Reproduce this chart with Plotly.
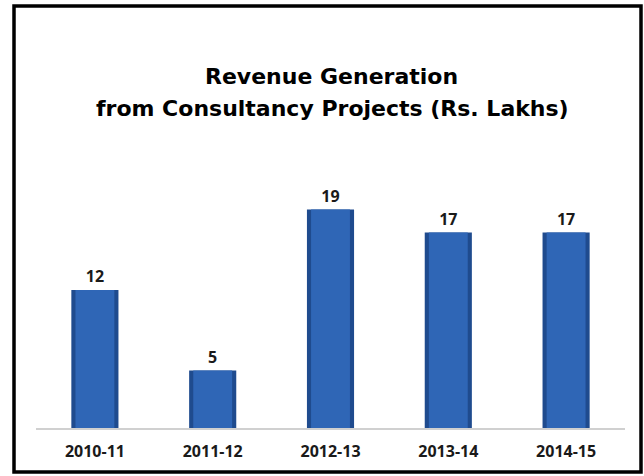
import plotly.graph_objects as go

# Consultancy revenue by financial year (Rs. Lakhs)
years = ["2010-11", "2011-12", "2012-13", "2013-14", "2014-15"]
revenue = [12, 5, 19, 17, 17]

title_lines = ["Revenue Generation", "from Consultancy Projects (Rs. Lakhs)"]

W, H = 644, 476
# plot area in pixels
px_left, px_right = 36, 625
px_top, px_bottom = 198, 428

fig = go.Figure()

# dark outer body of each column
fig.add_trace(go.Bar(
    x=years, y=revenue, width=0.4,
    marker=dict(color="#1F4B8E", line=dict(width=0)),
    hoverinfo="skip", showlegend=False,
))
# lighter inner face for a bevelled look
fig.add_trace(go.Bar(
    x=years, y=revenue, width=0.33,
    marker=dict(color="#2F66B6", line=dict(width=0)),
    text=[str(v) for v in revenue], textposition="outside",
    textfont=dict(family="Open Sans", size=16, color="#1a1a1a"),
    texttemplate="<b>%{text}</b>",
    cliponaxis=False, showlegend=False,
))

fig.update_layout(
    width=W, height=H,
    margin=dict(l=0, r=0, t=0, b=0),
    paper_bgcolor="white", plot_bgcolor="white",
    barmode="overlay",
    xaxis=dict(
        type="category",
        domain=[px_left / W, px_right / W],
        showgrid=False, zeroline=False,
        showline=True, linecolor="#D0D0D0", linewidth=2,
        ticks="", ticklabelstandoff=8,
        tickfont=dict(family="Open Sans", size=16, color="#1a1a1a", weight="bold"),
    ),
    yaxis=dict(
        domain=[(H - px_bottom) / H, (H - px_top) / H],
        range=[0, 20], visible=False,
    ),
    shapes=[dict(
        type="rect", xref="paper", yref="paper",
        x0=14 / W, x1=641 / W, y0=(H - 472) / H, y1=(H - 6) / H,
        line=dict(color="black", width=3.5), fillcolor="rgba(0,0,0,0)",
    )],
    annotations=[
        dict(text="<b>" + title_lines[0] + "</b>", xref="paper", yref="paper",
             x=331 / W, y=(H - 77) / H, xanchor="center", yanchor="middle",
             showarrow=False,
             font=dict(family="DejaVu Sans", size=22, color="black")),
        dict(text="<b>" + title_lines[1] + "</b>", xref="paper", yref="paper",
             x=332 / W, y=(H - 109) / H, xanchor="center", yanchor="middle",
             showarrow=False,
             font=dict(family="DejaVu Sans", size=22, color="black")),
    ],
)

fig.write_html("out.html")
